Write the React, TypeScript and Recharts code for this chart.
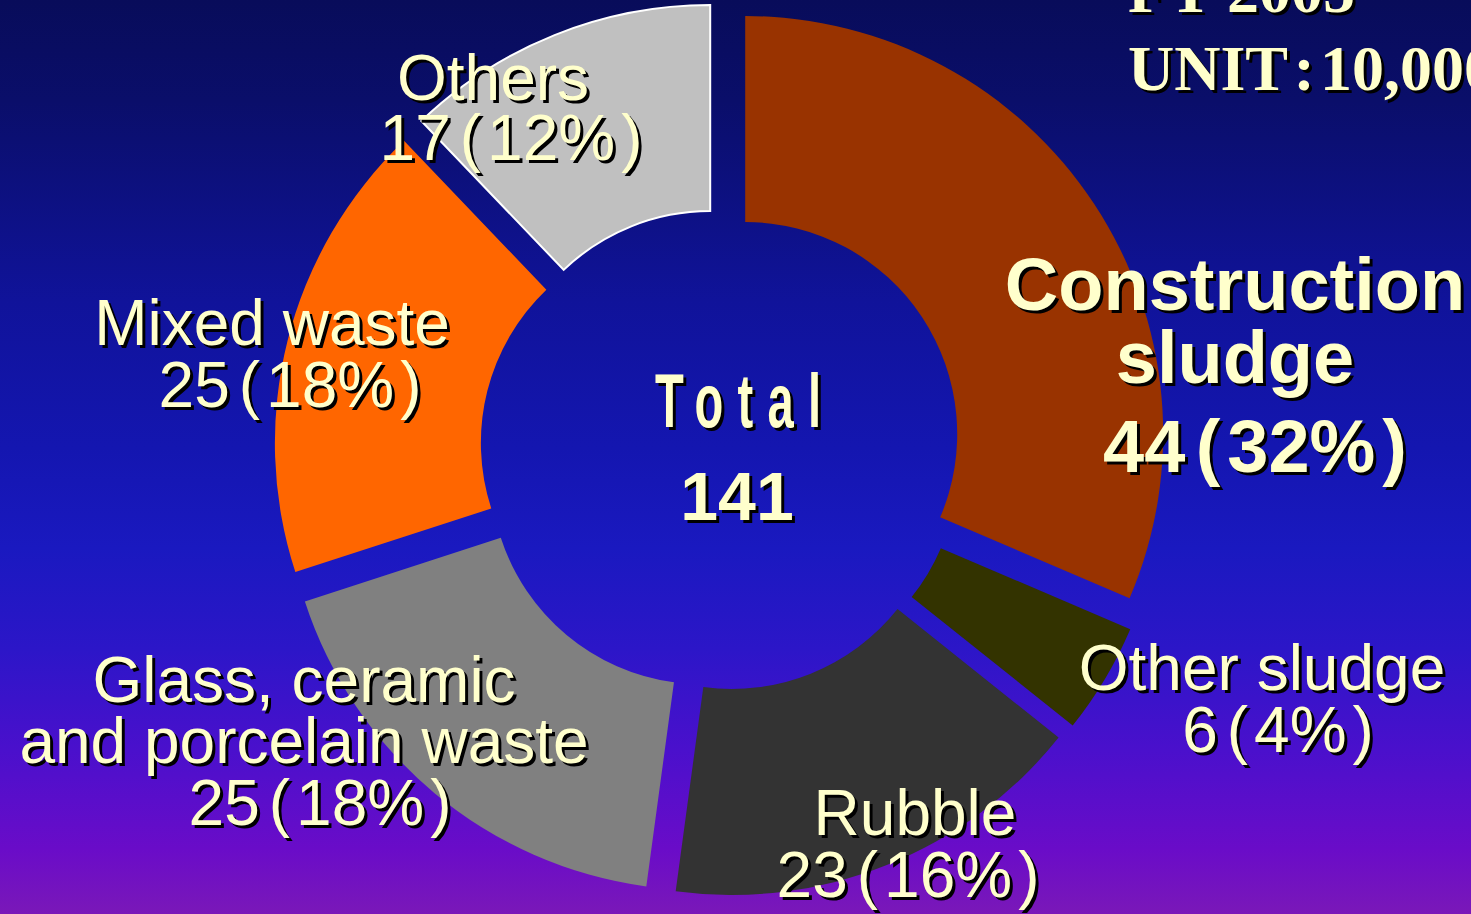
import React from 'react';
import { PieChart, Pie, Cell, Sector } from 'recharts';

// ---- data ----
const categories = [
  'Construction sludge',
  'Other sludge',
  'Rubble',
  'Glass, ceramic and porcelain waste',
  'Mixed waste',
  'Others',
];
const amounts = [44, 6, 23, 25, 25, 17];
const shares = [32, 4, 16, 18, 18, 12];
const totalAmount = 141;
const labelLines: string[][] = [
  ['Construction', 'sludge'],
  ['Other sludge'],
  ['Rubble'],
  ['Glass, ceramic', 'and porcelain waste'],
  ['Mixed waste'],
  ['Others'],
];
const headerLines = ['FY 2005', 'UNIT\u200a:\u200a10,000t'];

// ---- styles / layout ----
const colors = ['#993300', '#333300', '#333333', '#808080', '#ff6600', '#c0c0c0'];
const strokes = ['none', 'none', 'none', 'none', 'none', '#ffffff'];
const TEXT = '#ffffcc';
const SANS = '"Liberation Sans", Arial, sans-serif';
const SERIF = '"Liberation Serif", "Times New Roman", serif';
const EXPLODE = 29;

type LabelLayout = { lines: [number, number][]; value: [number, number]; size: number; bold: boolean };
const labelLayout: LabelLayout[] = [
  { lines: [[1235, 310], [1235, 383]], value: [1255, 472], size: 74, bold: true },
  { lines: [[1262, 690]], value: [1278, 752], size: 64, bold: false },
  { lines: [[915, 835]], value: [908, 897], size: 64, bold: false },
  { lines: [[304, 702], [304, 763]], value: [320, 825], size: 64, bold: false },
  { lines: [[272, 345]], value: [290, 407], size: 64, bold: false },
  { lines: [[493, 100]], value: [511, 160], size: 64, bold: false },
];

const data = categories.map((name, i) => ({ name, value: amounts[i], share: shares[i] }));

const ShadowText = ({ x, y, children, size, bold, family = SANS, anchor = 'middle', transform }: any) => (
  <g transform={transform}>
    <text x={x + 3} y={y + 3} fill="#000000" fontSize={size} fontWeight={bold ? 'bold' : 'normal'} fontFamily={family} textAnchor={anchor}>
      {children}
    </text>
    <text x={x} y={y} fill={TEXT} fontSize={size} fontWeight={bold ? 'bold' : 'normal'} fontFamily={family} textAnchor={anchor}>
      {children}
    </text>
  </g>
);

const ExplodedSector = (props: any) => {
  const rad = (Math.PI / 180) * props.midAngle;
  const dx = EXPLODE * Math.cos(rad);
  const dy = -EXPLODE * Math.sin(rad);
  return <Sector {...props} cx={props.cx + dx} cy={props.cy + dy} />;
};

const ValueParts = ({ i, size }: { i: number; size: number }) => {
  const k = size / 64;
  return (
    <>
      <tspan>{String(amounts[i])}</tspan>
      <tspan dx={9 * k}>(</tspan>
      <tspan dx={6 * k}>{`${shares[i]}%`}</tspan>
      <tspan dx={6 * k}>)</tspan>
    </>
  );
};

const renderLabel = (props: any) => {
  const i = props.index;
  const lay = labelLayout[i];
  if (!lay) return null;
  return (
    <g key={`lbl-${i}`}>
      {labelLines[i].map((t, j) => (
        <ShadowText key={j} x={lay.lines[j][0]} y={lay.lines[j][1]} size={lay.size} bold={lay.bold}>
          {t}
        </ShadowText>
      ))}
      <ShadowText x={lay.value[0]} y={lay.value[1]} size={lay.size} bold={lay.bold}>
        <ValueParts i={i} size={lay.size} />
      </ShadowText>
    </g>
  );
};

export default function App() {
  return (
    <div
      style={{
        position: 'absolute',
        left: 0,
        top: 0,
        width: 1471,
        height: 914,
        overflow: 'hidden',
        background:
          'linear-gradient(to bottom, #080c5a 0%, #0a0e6a 11%, #10139a 33%, #1416b0 49%, #1a19c0 60%, #2c16c8 71%, #4a10cc 82%, #6a0cc8 93%, #7a18b8 100%)',
      }}
    >
      <PieChart width={1471} height={914} margin={{ top: 0, right: 0, bottom: 0, left: 0 }}>
        <Pie
          data={data}
          dataKey="value"
          nameKey="name"
          cx={721}
          cy={450}
          innerRadius={212}
          outerRadius={418}
          startAngle={90}
          endAngle={-270}
          paddingAngle={0}
          isAnimationActive={false}
          shape={ExplodedSector}
          label={renderLabel}
          labelLine={false}
        >
          {data.map((d, i) => (
            <Cell key={d.name} fill={colors[i]} stroke={strokes[i]} strokeWidth={strokes[i] === 'none' ? 0 : 2} />
          ))}
        </Pie>
        <g>
          <g transform="translate(655,427) scale(0.62,1)">
            <text x={3 / 0.62} y={3} fill="#000" fontSize={76} fontWeight="bold" fontFamily={SANS} letterSpacing={23}>Total</text>
            <text x={0} y={0} fill={TEXT} fontSize={76} fontWeight="bold" fontFamily={SANS} letterSpacing={23}>Total</text>
          </g>
          <ShadowText x={737} y={520} size={68} bold>
            {String(totalAmount)}
          </ShadowText>
          <ShadowText x={1128} y={12} size={64} bold family={SERIF} anchor="start">
            {headerLines[0]}
          </ShadowText>
          <ShadowText x={1128} y={90} size={64} bold family={SERIF} anchor="start">
            {headerLines[1]}
          </ShadowText>
        </g>
      </PieChart>
    </div>
  );
}
